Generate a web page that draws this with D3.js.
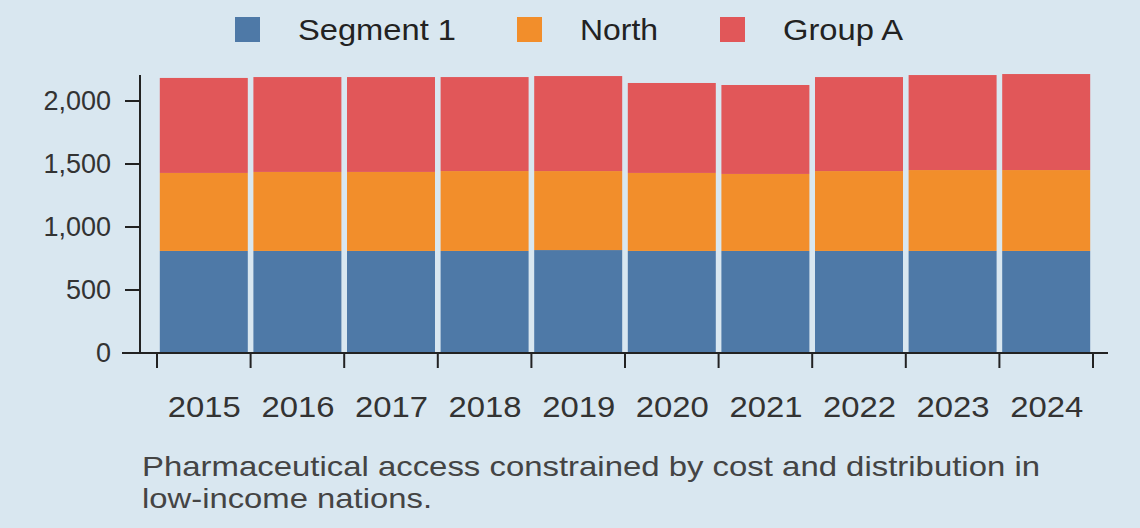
<!DOCTYPE html><html><head><script src="https://cdn.jsdelivr.net/npm/d3@7"></script>
<style>body{margin:0;background:#d9e7f0;font-family:"Liberation Sans",Arial,sans-serif}</style></head><body>
<svg id="c" width="1140" height="528"></svg>
<script>
const years=["2015","2016","2017","2018","2019","2020","2021","2022","2023","2024"];
const seriesNames=["Segment 1","North","Group A"];
const segment1=[810,810,810,810,817,810,810,810,810,810];
const north=[619,627,627,634,627,619,611,634,642,642];
const groupA=[754,753,753,746,754,714,706,746,754,762];
const yTicks=[0,500,1000,1500,2000];
const colors=["#4e79a7","#f28e2b","#e15759"];
const svg=d3.select("#c");
svg.append("rect").attr("width",1140).attr("height",528).attr("fill","#d9e7f0");
const x=d3.scaleBand().domain(years).range([157,1093]).paddingInner(0.06).paddingOuter(0.03);
const y=d3.scaleLinear().domain([0,2000]).range([353,101]);
const rows=years.map((yr,i)=>({year:yr,"Segment 1":segment1[i],"North":north[i],"Group A":groupA[i]}));
const stack=d3.stack().keys(seriesNames)(rows);
stack.forEach((s,k)=>svg.append("g").selectAll("rect").data(s).join("rect")
 .attr("x",d=>x(d.data.year)).attr("width",x.bandwidth())
 .attr("y",d=>y(d[1])).attr("height",d=>y(d[0])-y(d[1])).attr("fill",colors[k]));
const ax="#222";
svg.append("line").attr("x1",140).attr("x2",140).attr("y1",75).attr("y2",353).attr("stroke",ax).attr("stroke-width",2);
yTicks.forEach(t=>{svg.append("line").attr("x1",125).attr("x2",140).attr("y1",y(t)).attr("y2",y(t)).attr("stroke",ax).attr("stroke-width",2);
 svg.append("text").attr("x",111).attr("y",y(t)).attr("dy","0.35em").attr("text-anchor","end").attr("font-size",27).attr("fill","#333").text(d3.format(",")(t));});
svg.append("line").attr("x1",122).attr("x2",1108).attr("y1",353).attr("y2",353).attr("stroke",ax).attr("stroke-width",2);
const edges=years.map(yr=>x(yr)-x.step()*x.paddingInner()/2).concat([x(years[9])+x.bandwidth()+x.step()*x.paddingInner()/2]);
edges.forEach(e=>svg.append("line").attr("x1",e).attr("x2",e).attr("y1",353).attr("y2",368).attr("stroke",ax).attr("stroke-width",2));
years.forEach(yr=>svg.append("text").attr("x",x(yr)+x.bandwidth()/2-36).attr("y",417).attr("font-size",29).attr("textLength",73).attr("lengthAdjust","spacingAndGlyphs").attr("fill","#333").text(yr));
const lx=[235,517,720], lw=[158,78,120];
seriesNames.forEach((n,i)=>{svg.append("rect").attr("x",lx[i]).attr("y",17).attr("width",25).attr("height",25).attr("fill",colors[i]);
 svg.append("text").attr("x",lx[i]+63).attr("y",40).attr("font-size",29).attr("textLength",lw[i]).attr("lengthAdjust","spacingAndGlyphs").attr("fill","#222").text(n);});
svg.append("text").attr("x",142).attr("y",476).attr("font-size",28).attr("textLength",898).attr("lengthAdjust","spacingAndGlyphs").attr("fill","#444").text("Pharmaceutical access constrained by cost and distribution in");
svg.append("text").attr("x",142).attr("y",508).attr("font-size",28).attr("textLength",290).attr("lengthAdjust","spacingAndGlyphs").attr("fill","#444").text("low-income nations.");
</script></body></html>
